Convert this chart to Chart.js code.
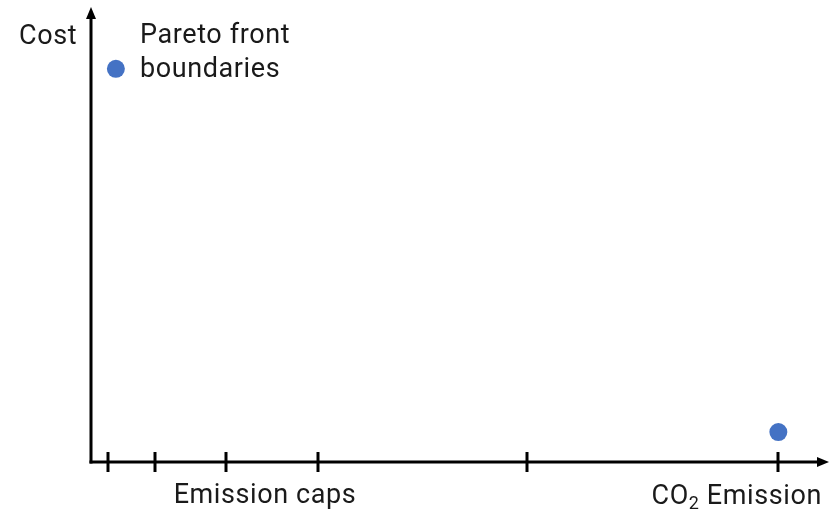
<!DOCTYPE html>
<html>
<head>
<meta charset="utf-8">
<script src="https://cdn.jsdelivr.net/npm/chart.js@4"></script>
<style>
html,body{margin:0;padding:0;background:#fff;}
#wrap{width:832px;height:511px;position:relative;}
</style>
</head>
<body>
<div id="wrap"><canvas id="c" width="832" height="511"></canvas></div>
<script>
// Data (arbitrary units: x = CO2 emission, y = cost)
const seriesName = "Pareto front boundaries";
const paretoX = [3.4, 93.9];
const paretoY = [86.8, 6.6];
const emissionCapTicks = [2.3, 8.7, 18.5, 31.0, 59.6, 93.9];
const xAxisTitle = "Emission caps";
const xAxisEndTitle = ["CO", "2", " Emission"];
const yAxisTitle = "Cost";

const FONT = "Roboto, 'DejaVu Sans', sans-serif";

const axesPlugin = {
  id: 'axesPlugin',
  afterDatasetsDraw(chart) {
    const ctx = chart.ctx;
    const xs = chart.scales.x, ys = chart.scales.y;
    const left = xs.getPixelForValue(0);
    const bottom = ys.getPixelForValue(0);
    const top = ys.getPixelForValue(100);
    const right = xs.getPixelForValue(100);
    ctx.save();
    ctx.strokeStyle = '#000';
    ctx.fillStyle = '#000';
    ctx.lineWidth = 3;
    ctx.lineCap = 'butt';
    // y axis
    ctx.beginPath();
    ctx.moveTo(left, bottom + 1.5);
    ctx.lineTo(left, top + 8);
    ctx.stroke();
    ctx.beginPath();
    ctx.moveTo(left, top - 2);
    ctx.lineTo(left - 5, top + 10);
    ctx.lineTo(left + 5, top + 10);
    ctx.closePath();
    ctx.fill();
    // x axis
    ctx.beginPath();
    ctx.moveTo(left - 1.5, bottom);
    ctx.lineTo(right - 2, bottom);
    ctx.stroke();
    ctx.beginPath();
    ctx.moveTo(right + 6, bottom);
    ctx.lineTo(right - 6, bottom - 5);
    ctx.lineTo(right - 6, bottom + 5);
    ctx.closePath();
    ctx.fill();
    // tick marks
    emissionCapTicks.forEach(v => {
      const px = Math.round(xs.getPixelForValue(v));
      ctx.beginPath();
      ctx.moveTo(px, bottom - 10);
      ctx.lineTo(px, bottom + 10);
      ctx.stroke();
    });
    // texts
    ctx.fillStyle = '#1a1a1a';
    ctx.font = '27px ' + FONT;
    ctx.letterSpacing = '0.6px';
    ctx.textBaseline = 'alphabetic';
    ctx.textAlign = 'left';
    ctx.fillText(yAxisTitle, 19, 44);
    const words = seriesName.split(' ');
    ctx.fillText(words.slice(0, 2).join(' '), 140, 43);
    ctx.fillText(words.slice(2).join(' '), 140, 77);
    ctx.textAlign = 'center';
    ctx.fillText(xAxisTitle, 265, 503);
    // CO2 Emission, right aligned at 822
    ctx.textAlign = 'left';
    const big = '27px ' + FONT, small = '18px ' + FONT;
    ctx.font = big; const w1 = ctx.measureText(xAxisEndTitle[0]).width;
    const w3 = ctx.measureText(xAxisEndTitle[2]).width;
    ctx.font = small; const w2 = ctx.measureText(xAxisEndTitle[1]).width;
    let x0 = 822 - (w1 + w2 + w3);
    ctx.font = big; ctx.fillText(xAxisEndTitle[0], x0, 504);
    ctx.font = small; ctx.fillText(xAxisEndTitle[1], x0 + w1, 509);
    ctx.font = big; ctx.fillText(xAxisEndTitle[2], x0 + w1 + w2, 504);
    ctx.restore();
  }
};

new Chart(document.getElementById('c'), {
  type: 'scatter',
  data: {
    datasets: [{
      label: seriesName,
      data: paretoX.map((x, i) => ({x: x, y: paretoY[i]})),
      backgroundColor: '#4472C4',
      borderColor: '#4472C4',
      pointRadius: 9,
      pointHoverRadius: 9,
      borderWidth: 0
    }]
  },
  options: {
    responsive: false,
    animation: false,
    events: [],
    layout: { padding: { left: 91, right: 6, top: 8, bottom: 49 } },
    plugins: { legend: { display: false }, tooltip: { enabled: false } },
    scales: {
      x: { type: 'linear', min: 0, max: 100, display: false },
      y: { type: 'linear', min: 0, max: 100, display: false }
    }
  },
  plugins: [axesPlugin]
});
</script>
</body>
</html>
